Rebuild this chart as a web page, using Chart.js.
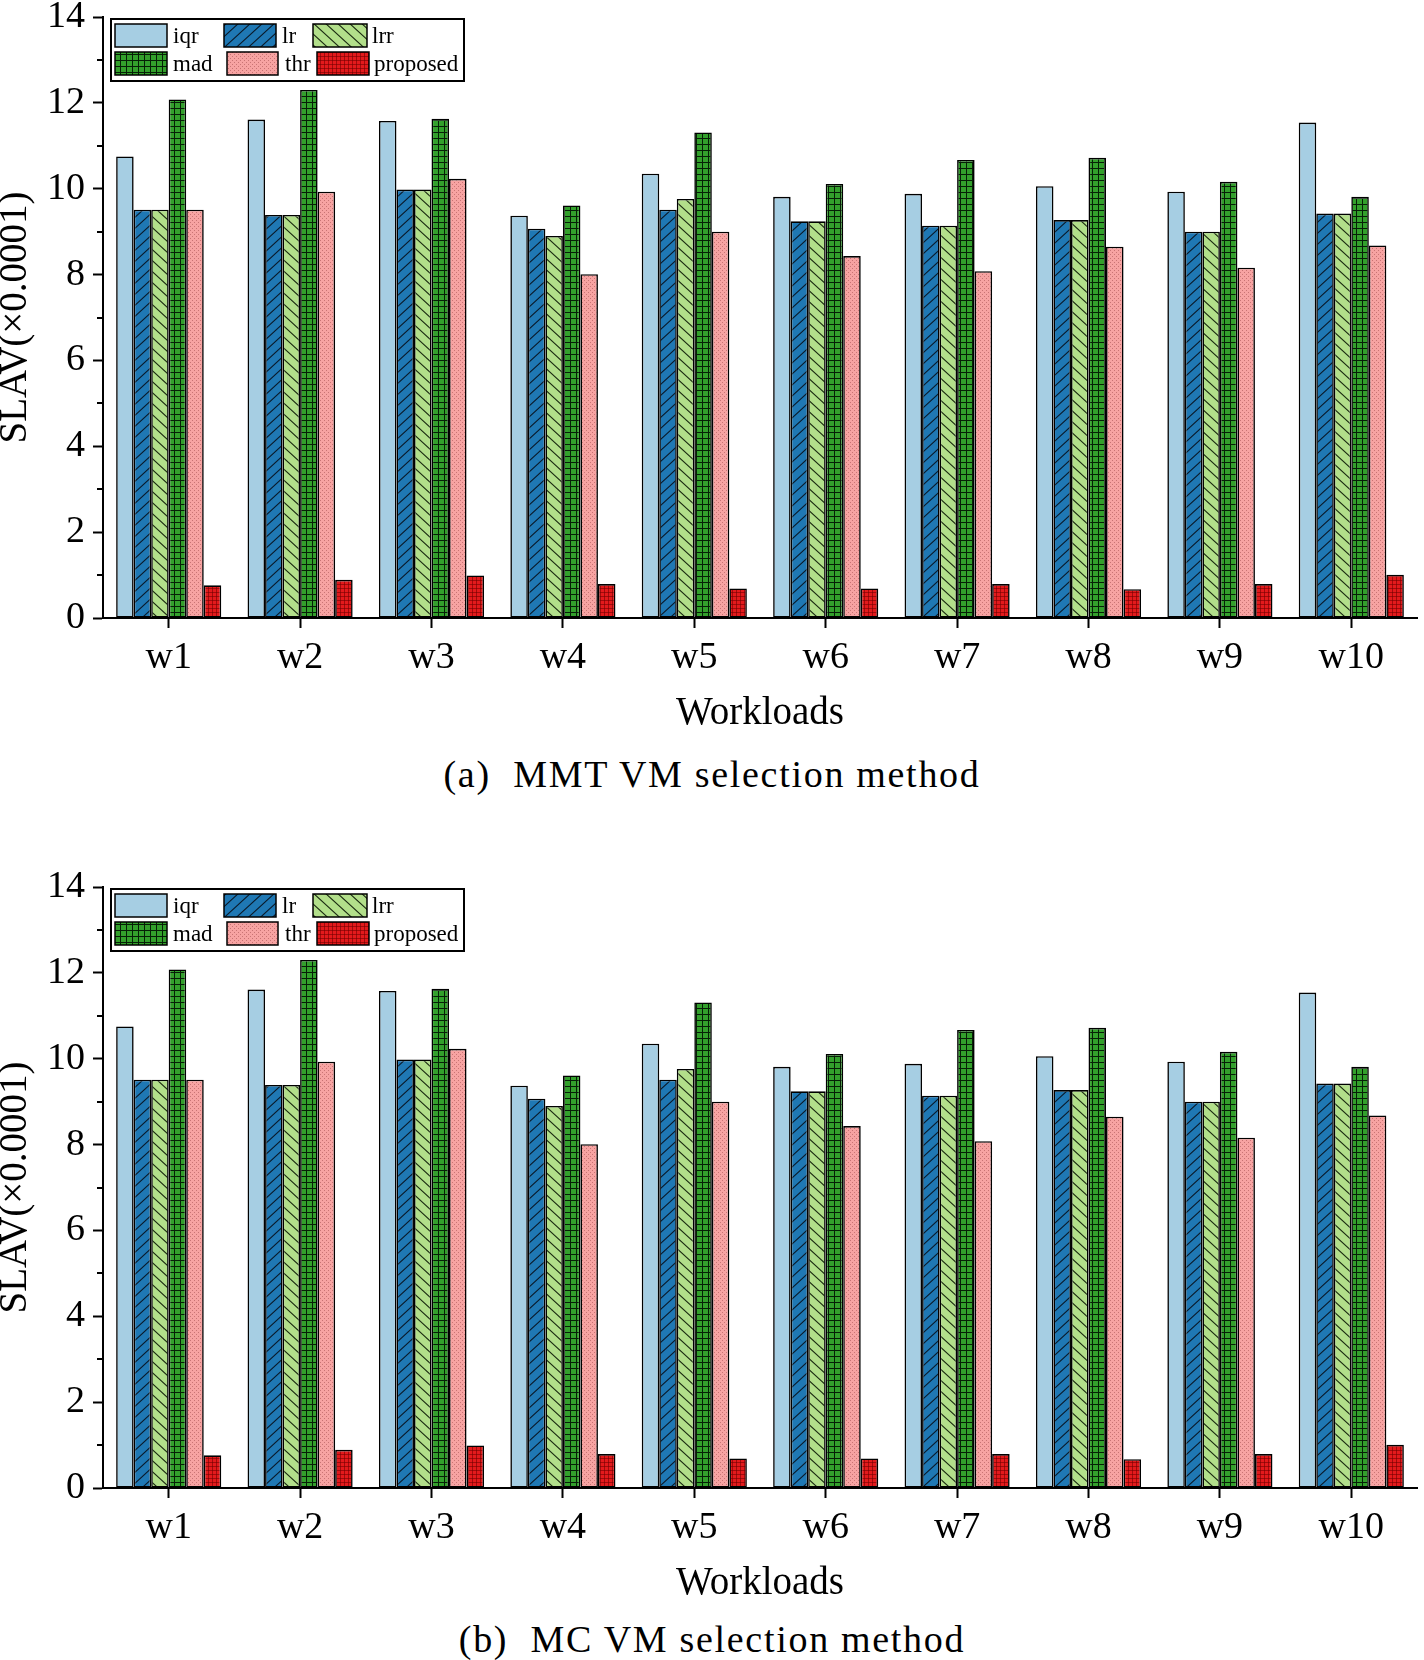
<!DOCTYPE html>
<html><head><meta charset="utf-8">
<script src="https://cdn.jsdelivr.net/npm/chart.js@4.4.1/dist/chart.umd.min.js"></script>
<style>
body{margin:0;background:#fff;width:1424px;height:1660px;position:relative;overflow:hidden;font-family:"Liberation Serif",serif;}
.wrap{position:absolute;left:0;width:1424px;height:740px;}
.cap{position:absolute;left:0;width:1424px;text-align:center;font-size:38px;letter-spacing:1.7px;line-height:1;white-space:pre;color:#000;}
</style></head><body>
<div class="wrap" style="top:0"><canvas id="c1" width="1424" height="740"></canvas></div>
<div class="cap" style="top:755px">(a)  MMT VM selection method</div>
<div class="wrap" style="top:870px"><canvas id="c2" width="1424" height="740"></canvas></div>
<div class="cap" style="top:1620px">(b)  MC VM selection method</div>
<script>
const categories = ['w1','w2','w3','w4','w5','w6','w7','w8','w9','w10'];
const seriesNames = ['iqr','lr','lrr','mad','thr','proposed'];
const iqr      = [10.75, 11.61, 11.58, 9.37, 10.35, 9.81, 9.88, 10.06, 9.93, 11.54];
const lr       = [9.51, 9.39, 9.98, 9.07, 9.51, 9.24, 9.14, 9.27, 9.00, 9.42];
const lrr      = [9.51, 9.39, 9.98, 8.90, 9.76, 9.24, 9.14, 9.27, 9.00, 9.42];
const mad      = [12.08, 12.30, 11.63, 9.61, 11.31, 10.11, 10.67, 10.72, 10.16, 9.81];
const thr      = [9.51, 9.93, 10.23, 8.01, 9.00, 8.43, 8.08, 8.65, 8.16, 8.68];
const proposed = [0.76, 0.89, 0.99, 0.79, 0.69, 0.69, 0.79, 0.67, 0.79, 1.01];
const yMajorTicks = [0,2,4,6,8,10,12,14];
const yMinorTicks = [1,3,5,7,9,11,13];
const yTitle = 'SLAV(×0.0001)';
const xTitle = 'Workloads';

const FONT = 'Liberation Serif';
Chart.defaults.font.family = FONT;
Chart.defaults.color = '#000';

function makePattern(bg, w, h, drawFn){
  const c = document.createElement('canvas'); c.width = w; c.height = h;
  const x = c.getContext('2d');
  x.fillStyle = bg; x.fillRect(0,0,w,h);
  drawFn(x,w,h);
  return document.createElement('canvas').getContext('2d').createPattern(c,'repeat');
}
function stroke(x, pts, color, lw){
  x.strokeStyle = color; x.lineWidth = lw; x.beginPath();
  for (const p of pts){ x.moveTo(p[0],p[1]); x.lineTo(p[2],p[3]); }
  x.stroke();
}
const fills = {
  iqr: '#a6cee3',
  lr: makePattern('#1f78b4', 12, 11, (x,w,h)=>stroke(x,[[-w,2*h,2*w,-h],[-w,h,w,-h],[0,2*h,2*w,0]],'#0a1a2a',1.1)),
  lrr: makePattern('#b2df8a', 12, 11, (x,w,h)=>stroke(x,[[-w,-h,2*w,2*h],[-w,0,w,2*h],[0,-h,2*w,h]],'#1a2a10',1.1)),
  mad: makePattern('#33a02c', 6, 6, (x,w,h)=>stroke(x,[[0.5,0,0.5,h],[0,0.5,w,0.5]],'#062006',1)),
  thr: makePattern('#f7a3a2', 4, 4, (x,w,h)=>{ x.fillStyle='#c97474'; x.fillRect(0,0,1,1); x.fillRect(2,2,1,1); }),
  proposed: makePattern('#e31a1c', 4, 4, (x,w,h)=>stroke(x,[[0.5,0,0.5,h],[0,0.5,w,0.5]],'rgba(110,0,0,0.55)',1))
};
const seriesData = {iqr, lr, lrr, mad, thr, proposed};

function buildDatasets(){
  return seriesNames.map(n => ({
    label: n,
    data: seriesData[n],
    backgroundColor: fills[n],
    borderColor: '#000',
    borderWidth: 1.6,
    borderSkipped: false,
    categoryPercentage: 0.8,
    barPercentage: 1.0
  }));
}

const minorTickPlugin = {
  id: 'minorTicks',
  afterDraw(chart){
    const y = chart.scales.y, ctx = chart.ctx;
    ctx.save(); ctx.strokeStyle = '#000'; ctx.lineWidth = 2;
    for (const v of yMinorTicks){
      const py = Math.round(y.getPixelForValue(v));
      ctx.beginPath(); ctx.moveTo(y.right - 6, py); ctx.lineTo(y.right, py); ctx.stroke();
    }
    ctx.restore();
  }
};

const legendPlugin = {
  id: 'boxLegend',
  afterDraw(chart){
    const ctx = chart.ctx;
    const ds = chart.data.datasets;
    const box = {x:111, y:19, w:353, h:62};
    const items = [
      {px:115, pw:52, tx:173, row:0},
      {px:224, pw:52, tx:282, row:0},
      {px:313, pw:54, tx:372, row:0},
      {px:115, pw:52, tx:173, row:1},
      {px:227, pw:51, tx:285, row:1},
      {px:317, pw:52, tx:374, row:1}
    ];
    const rows = [{y:24,h:23},{y:52,h:23}];
    ctx.save();
    ctx.fillStyle = '#fff';
    ctx.fillRect(box.x, box.y, box.w, box.h);
    ctx.strokeStyle = '#000'; ctx.lineWidth = 2;
    ctx.strokeRect(box.x, box.y, box.w, box.h);
    ctx.font = '23px "' + FONT + '"';
    ctx.textBaseline = 'middle';
    ctx.textAlign = 'left';
    items.forEach((it, i) => {
      const r = rows[it.row];
      ctx.fillStyle = ds[i].backgroundColor;
      ctx.fillRect(it.px, r.y, it.pw, r.h);
      ctx.lineWidth = 1.5; ctx.strokeStyle = '#000';
      ctx.strokeRect(it.px, r.y, it.pw, r.h);
      ctx.fillStyle = '#000';
      ctx.fillText(ds[i].label, it.tx, r.y + r.h/2 + 1);
    });
    ctx.restore();
  }
};

function makeChart(id){
  return new Chart(document.getElementById(id), {
    type: 'bar',
    data: { labels: categories, datasets: buildDatasets() },
    options: {
      responsive: false,
      animation: false,
      devicePixelRatio: 1,
      layout: { padding: { top: 17, right: 7, left: 0, bottom: 0 } },
      plugins: { legend: { display: false }, tooltip: { enabled: false } },
      scales: {
        x: {
          grid: { display: true, drawOnChartArea: false, drawTicks: true, tickLength: 10, tickWidth: 2, tickColor: '#000', offset: false },
          border: { display: true, color: '#000', width: 2 },
          ticks: { font: { family: FONT, size: 38 }, color: '#000', padding: 7, maxRotation: 0, autoSkip: false },
          title: { display: true, text: xTitle, font: { family: FONT, size: 39 }, color: '#000', padding: { top: 0, bottom: 3 } },
          afterFit: s => { s.height = 122; s.paddingLeft = 0; s.paddingRight = 0; }
        },
        y: {
          min: 0, max: 14,
          afterBuildTicks: s => { s.ticks = yMajorTicks.map(v => ({ value: v })); },
          ticks: { font: { family: FONT, size: 38, lineHeight: 0.8 }, color: '#000', padding: 8 },
          grid: { display: true, drawOnChartArea: false, drawTicks: true, tickLength: 10, tickWidth: 2, tickColor: '#000' },
          border: { display: true, color: '#000', width: 2 },
          title: { display: true, text: yTitle, font: { family: FONT, size: 39, lineHeight: 0.8 }, color: '#000', padding: 0 },
          afterFit: s => { s.width = 103; s.paddingTop = 0; s.paddingBottom = 0; }
        }
      }
    },
    plugins: [minorTickPlugin, legendPlugin]
  });
}
makeChart('c1');
makeChart('c2');
</script>
</body></html>
